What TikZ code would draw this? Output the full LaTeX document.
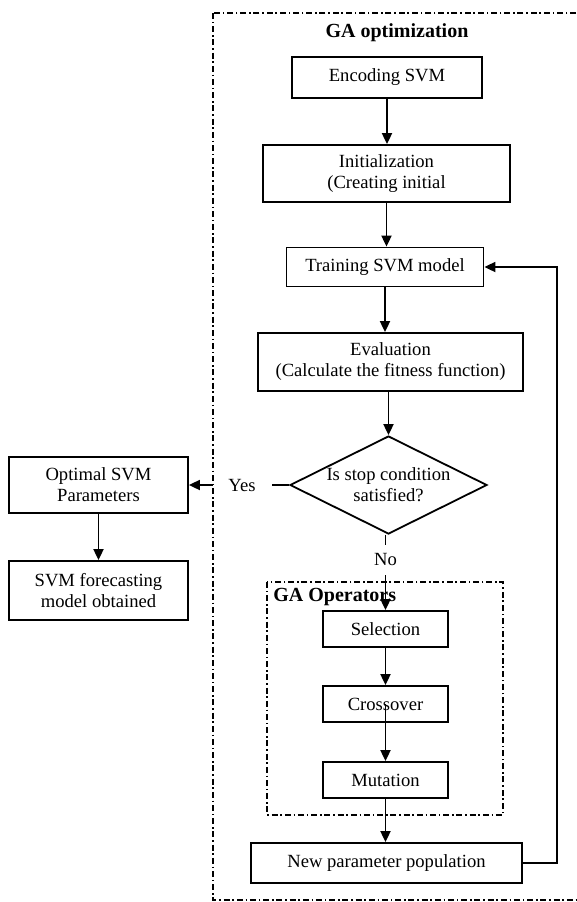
\documentclass[tikz,border=0pt]{standalone}
\usepackage{fontspec}
\setmainfont{Liberation Serif}
\usetikzlibrary{arrows.meta,shapes.geometric}
\tikzset{
  blk/.style={draw, line width=0.9pt, inner sep=0pt, align=center},
  cond/.style={draw, diamond, aspect=2, line width=0.9pt, inner sep=0pt, align=center},
  arr/.style={line width=0.9pt, -{Triangle[length=5.5pt,width=5pt]}},
  frame/.style={line width=0.75pt, dash pattern=on 3pt off 1.4pt on 0.8pt off 1.4pt},
  ttl/.style={font=\fontsize{10}{12}\selectfont\bfseries, inner sep=0pt},
}

\begin{document}
\begin{tikzpicture}[x=0.5pt, y=-0.5pt, font=\fontsize{9.3}{10.5}\selectfont]
	%%%%% START %%%%%
	\useasboundingbox (0, 0) rectangle (577, 902);
	
	% main column
	\node[blk, minimum width=95pt, minimum height=20.5pt] (enc) at (387, 77.5) {Encoding SVM};
	\node[blk, minimum width=123.5pt, minimum height=28.5pt] (init) at (386.5, 173.5) {Initialization\\(Creating initial};
	\node[blk, minimum width=98.5pt, minimum height=19.5pt] (train) at (385, 267) {Training SVM model};
	\node[blk, minimum width=132.5pt, minimum height=29pt] (eval) at (390.5, 362) {Evaluation\\(Calculate the fitness function)};
	\node[cond, minimum width=98.5pt, minimum height=49pt] (stop) at (388.5, 485) {Is stop condition\\satisfied?};
	
	% left column
	\node[blk, minimum width=89.5pt, minimum height=28pt] (opt) at (98.5, 485) {Optimal SVM\\Parameters};
	\node[blk, minimum width=89.5pt, minimum height=29.5pt] (fore) at (98.5, 590.5) {SVM forecasting\\model obtained};
	
	% operators
	\node[blk, minimum width=62.5pt, minimum height=18pt] (sel) at (385.5, 629) {Selection};
	\node[blk, minimum width=62.5pt, minimum height=18pt] (cross) at (385.5, 704) {Crossover};
	\node[blk, minimum width=62.5pt, minimum height=18pt] (mut) at (385.5, 780) {Mutation};
	\node[blk, minimum width=135.5pt, minimum height=20pt] (newpop) at (386.5, 863) {New parameter population};
	
	\draw[arr] (enc) -- (enc |- init.north);
	\draw[arr] (init) -- (init |- train.north);
	\draw[arr] (train) -- (train |- eval.north);
	\draw[arr] (eval.south -| stop) -- (stop.north);
	\draw[arr] (stop.west) -- node[pos=0.47, fill=white, inner sep=0pt, minimum width=29.5pt, minimum height=12pt] (yes) {Yes} (opt.east);
	\draw[arr] (opt) -- (fore);
	
	% frames
	\draw[frame] (213, 13) rectangle (590, 900);
	\node[ttl] (gaopt) at (397, 33) {GA optimization};
	\draw[frame] (267, 582) rectangle (503, 815);
	\node[ttl, anchor=west] (gaops) at (273, 597) {GA Operators};
	
	\draw[arr] (stop.south -| sel) -- node[pos=0.33, fill=white, inner sep=0pt, minimum height=15pt] (no) {No} (sel.north);
	\draw[arr] (sel) -- (cross);
	\draw[arr] (cross.center) -- (mut.north);
	\draw[arr] (mut) -- (mut |- newpop.north);
	
	% loop back
	\coordinate (fb) at (557, 0);
	\draw[arr] (newpop.east) -- (newpop.east -| fb) -- (train.east -| fb) -- (train.east);
	%%%%% END %%%%%
\end{tikzpicture}
\end{document}
